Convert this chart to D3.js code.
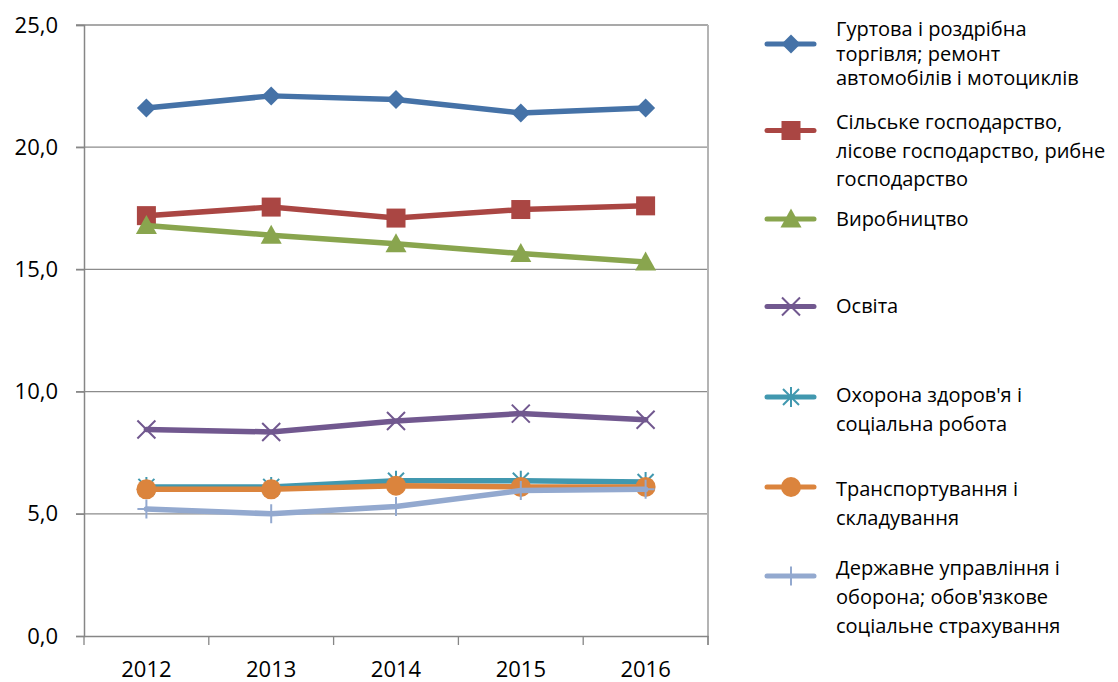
<!DOCTYPE html>
<html>
<head>
<meta charset="utf-8">
<script src="https://cdn.jsdelivr.net/npm/d3@7"></script>
<style>
  body { margin: 0; background: #fff; }
  text { font-family: "Open Sans", sans-serif; fill: #000; }
</style>
</head>
<body>
<div id="chart"></div>
<script>
var width = 1118
var height = 682

// data
var years = ["2012", "2013", "2014", "2015", "2016"]
var trade = [21.6, 22.1, 21.95, 21.4, 21.6]
var agri = [17.2, 17.55, 17.1, 17.45, 17.6]
var manuf = [16.8, 16.4, 16.05, 15.65, 15.3]
var edu = [8.45, 8.35, 8.8, 9.1, 8.85]
var health = [6.1, 6.1, 6.35, 6.35, 6.3]
var transport = [6.0, 6.0, 6.15, 6.1, 6.1]
var admin = [5.2, 5.0, 5.3, 5.95, 6.0]
var yTicks = [0, 5, 10, 15, 20, 25]

var names = [
  ["Гуртова і роздрібна", "торгівля; ремонт", "автомобілів і мотоциклів"],
  ["Сільське господарство,", "лісове господарство, рибне", "господарство"],
  ["Виробництво"],
  ["Освіта"],
  ["Охорона здоров'я і", "соціальна робота"],
  ["Транспортування і", "складування"],
  ["Державне управління і", "оборона; обов'язкове", "соціальне страхування"]
]

var series = [
  {values: trade, color: "#4572a7", marker: "diamond"},
  {values: agri, color: "#aa4643", marker: "square"},
  {values: manuf, color: "#89a54e", marker: "triangle"},
  {values: edu, color: "#71588f", marker: "x"},
  {values: health, color: "#4198af", marker: "star"},
  {values: transport, color: "#db843d", marker: "circle"},
  {values: admin, color: "#93a9cf", marker: "plus"}
]

// legend placement: marker y, first text line y, line step
var legendPos = [
  {my: 44, ty: 29, step: 24.5},
  {my: 130.5, ty: 122, step: 28.7},
  {my: 219, ty: 219, step: 28},
  {my: 306.5, ty: 306, step: 28},
  {my: 397, ty: 395, step: 29},
  {my: 487, ty: 489, step: 29},
  {my: 576, ty: 567.5, step: 29}
]

var svg = d3.select("#chart")
    .append("svg")
    .attr("width", width)
    .attr("height", height)

var plotLeft = 84, plotRight = 708, plotTop = 25, plotBottom = 636

var x = d3.scaleBand().domain(years).range([plotLeft, plotRight])
var y = d3.scaleLinear().domain([0, 25]).range([plotBottom, plotTop])
function cx(d) { return x(d) + x.bandwidth() / 2 }

// horizontal gridlines
svg.append("g")
    .selectAll("line")
    .data(yTicks.filter(function(d) { return d > 0 }))
    .enter()
    .append("line")
    .attr("x1", plotLeft - 8).attr("x2", plotRight)
    .attr("y1", function(d) { return y(d) }).attr("y2", function(d) { return y(d) })
    .attr("stroke", "#8c8c8c").attr("stroke-width", 1.3)

// right border of plot area
svg.append("line")
    .attr("x1", plotRight).attr("x2", plotRight).attr("y1", plotTop).attr("y2", plotBottom + 9)
    .attr("stroke", "#b4b4b4").attr("stroke-width", 2)

// y axis
var yAxis = svg.append("g")
    .attr("transform", "translate(" + plotLeft + ",0)")
    .call(d3.axisLeft(y).tickValues(yTicks).tickSize(8).tickPadding(18)
        .tickFormat(function(d) { return d.toFixed(1).replace(".", ",") }))
yAxis.select(".domain").attr("stroke", "#868686").attr("stroke-width", 1.5)
yAxis.selectAll(".tick line").attr("stroke", "#868686").attr("stroke-width", 1.3)
yAxis.selectAll("text").attr("font-size", 22).attr("font-family", "Open Sans")

// x axis
var xAxis = svg.append("g")
    .attr("transform", "translate(0," + plotBottom + ")")
    .call(d3.axisBottom(x).tickSize(0).tickPadding(25))
xAxis.select(".domain").attr("stroke", "#868686").attr("stroke-width", 1.5)
xAxis.selectAll("text").attr("font-size", 22).attr("font-family", "Open Sans")

// category boundary tick marks
svg.append("g")
    .selectAll("line")
    .data(years.concat(["end"]))
    .enter()
    .append("line")
    .attr("x1", function(d, i) { return plotLeft + i * x.step() })
    .attr("x2", function(d, i) { return plotLeft + i * x.step() })
    .attr("y1", plotBottom).attr("y2", plotBottom + 9)
    .attr("stroke", "#868686").attr("stroke-width", 1.3)

function drawMarker(g, type, color) {
  if (type == "diamond") {
    g.append("path").attr("d", "M0,-9.5L9.5,0L0,9.5L-9.5,0Z").attr("fill", color)
  } else if (type == "square") {
    g.append("rect").attr("x", -9.5).attr("y", -9.5).attr("width", 19).attr("height", 19).attr("fill", color)
  } else if (type == "triangle") {
    g.append("path").attr("d", "M0,-10.5L10.5,8.5L-10.5,8.5Z").attr("fill", color)
  } else if (type == "circle") {
    g.append("circle").attr("r", 10).attr("fill", color)
  } else if (type == "x") {
    g.append("path").attr("d", "M-9,-9L9,9M-9,9L9,-9").attr("stroke", color).attr("stroke-width", 2)
  } else if (type == "star") {
    g.append("path").attr("d", "M-8,-8L8,8M-8,8L8,-8M0,-10L0,10").attr("stroke", color).attr("stroke-width", 2)
  } else if (type == "plus") {
    g.append("path").attr("d", "M0,-9.5L0,9.5M-9,0L9,0").attr("stroke", color).attr("stroke-width", 2)
  }
}

var line = d3.line()
    .x(function(d, i) { return cx(years[i]) })
    .y(function(d) { return y(d) })

series.forEach(function(s) {
  var g = svg.append("g")
  g.append("path")
      .datum(s.values)
      .attr("d", line)
      .attr("fill", "none")
      .attr("stroke", s.color)
      .attr("stroke-width", 5.5)
      .attr("stroke-linejoin", "round")
      .attr("stroke-linecap", "round")
  g.selectAll(".m")
      .data(s.values)
      .enter()
      .append("g")
      .attr("transform", function(d, i) { return "translate(" + cx(years[i]) + "," + y(d) + ")" })
      .each(function() { drawMarker(d3.select(this), s.marker, s.color) })
})

// legend
series.forEach(function(s, i) {
  var p = legendPos[i]
  var g = svg.append("g")
  g.append("line")
      .attr("x1", 767).attr("x2", 814).attr("y1", p.my).attr("y2", p.my)
      .attr("stroke", s.color).attr("stroke-width", 5).attr("stroke-linecap", "round")
  var mg = g.append("g").attr("transform", "translate(791," + p.my + ")")
  drawMarker(mg, s.marker, s.color)
  g.selectAll("text")
      .data(names[i])
      .enter()
      .append("text")
      .attr("x", 836)
      .attr("y", function(d, j) { return p.ty + j * p.step })
      .attr("dy", "0.35em")
      .attr("font-size", 20)
      .text(function(d) { return d })
})
</script>
</body>
</html>
